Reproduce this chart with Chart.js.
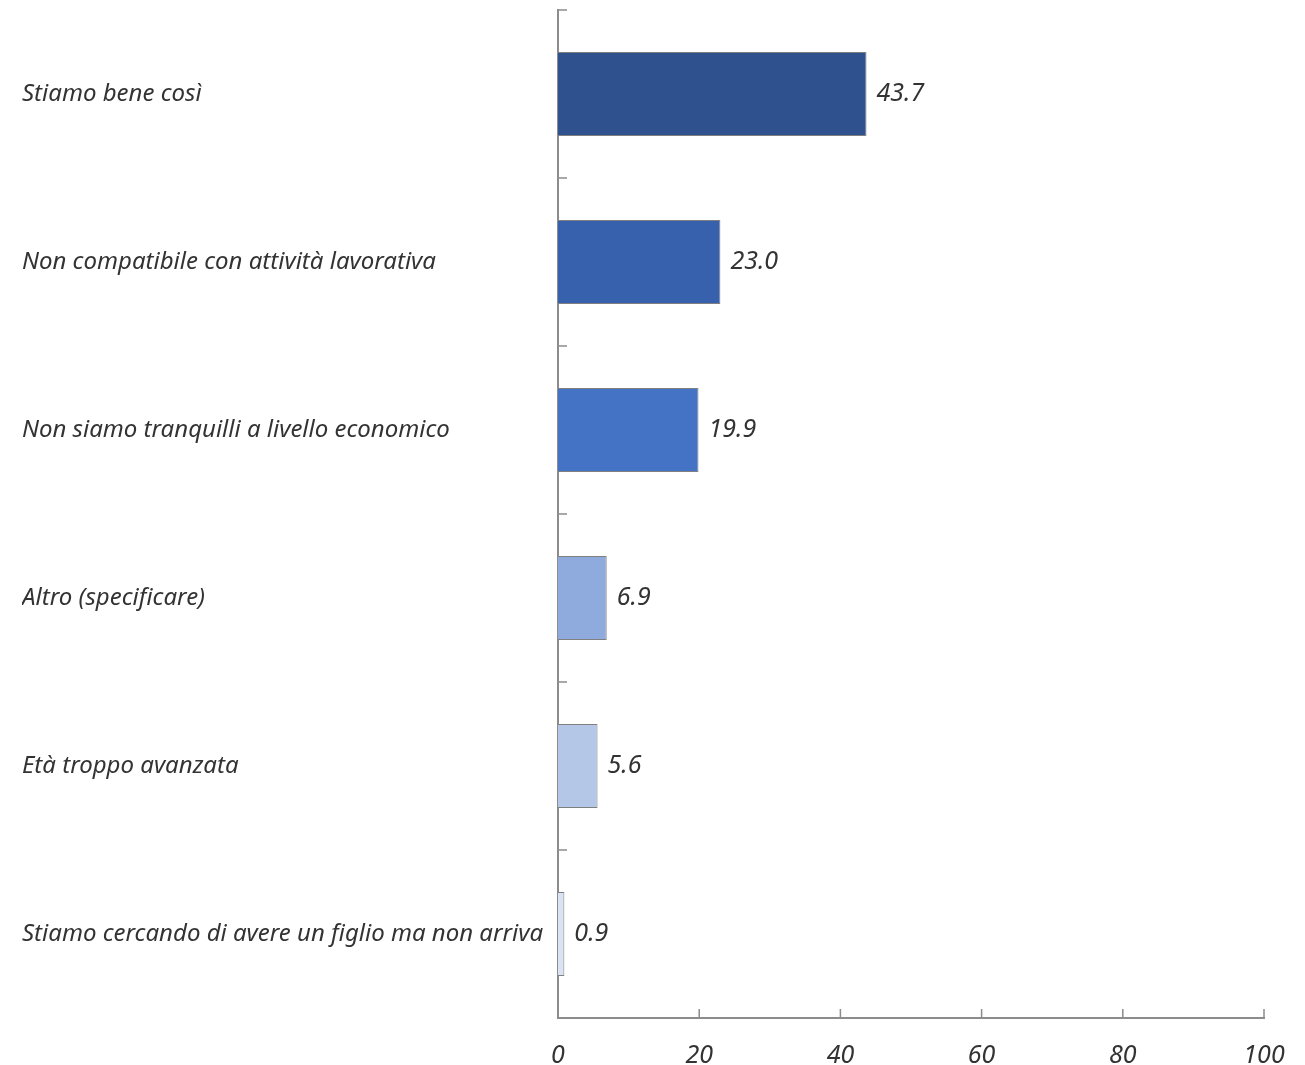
<!DOCTYPE html>
<html>
<head>
<meta charset="utf-8">
<script src="https://cdn.jsdelivr.net/npm/chart.js@4"></script>
<style>
  html, body { margin: 0; padding: 0; background: #fff; }
  #wrap { width: 1305px; height: 1065px; }
</style>
</head>
<body>
<div id="wrap"><canvas id="chart"></canvas></div>
<script>
const categories = [
    'Stiamo bene così',
    'Non compatibile con attività lavorativa',
    'Non siamo tranquilli a livello economico',
    'Altro (specificare)',
    'Età troppo avanzata',
    'Stiamo cercando di avere un figlio ma non arriva'
];
const values = [43.7, 23.0, 19.9, 6.9, 5.6, 0.9];
const barColors = ['#2f528f', '#3761ad', '#4472c4', '#8faadc', '#b4c7e7', '#dae3f3'];
const xTicks = [0, 20, 40, 60, 80, 100];

const FONT = '"Noto Sans", sans-serif';
const AXIS = '#8c8c8c';
const TEXT = '#333333';

// small tick marks pointing into the plot, like the original
const innerTicks = {
    id: 'innerTicks',
    afterDraw(chart) {
        const ctx = chart.ctx;
        const x = chart.scales.x, y = chart.scales.y;
        ctx.save();
        ctx.strokeStyle = AXIS;
        ctx.lineWidth = 1.5;
        ctx.beginPath();
        for (let i = 0; i <= categories.length; i++) {
            const py = y.getPixelForValue(i - 0.5);
            ctx.moveTo(x.left, py);
            ctx.lineTo(x.left + 9, py);
        }
        xTicks.forEach(v => {
            const px = x.getPixelForValue(v);
            ctx.moveTo(px, y.bottom);
            ctx.lineTo(px, y.bottom - 9);
        });
        ctx.stroke();
        ctx.restore();
    }
};

const valueLabels = {
    id: 'valueLabels',
    afterDatasetsDraw(chart) {
        const ctx = chart.ctx;
        ctx.save();
        ctx.font = 'italic 25px ' + FONT;
        ctx.fillStyle = TEXT;
        ctx.textAlign = 'left';
        ctx.textBaseline = 'middle';
        chart.getDatasetMeta(0).data.forEach((bar, i) => {
            ctx.fillText(values[i].toFixed(1), bar.x + 10, bar.y);
        });
        ctx.restore();
    }
};

new Chart(document.getElementById('chart'), {
    type: 'bar',
    data: {
        labels: categories,
        datasets: [{
            data: values,
            backgroundColor: barColors,
            borderColor: '#7f7f7f',
            borderWidth: 1,
            barPercentage: 0.5,
            categoryPercentage: 1
        }]
    },
    options: {
        indexAxis: 'y',
        responsive: true,
        maintainAspectRatio: false,
        animation: false,
        layout: { padding: { left: 22, right: 41, top: 10, bottom: 0 } },
        plugins: {
            legend: { display: false },
            tooltip: { enabled: false }
        },
        scales: {
            x: {
                min: 0,
                max: 100,
                afterBuildTicks: s => { s.ticks = xTicks.map(v => ({ value: v })); },
                afterFit: s => { s.height = 47; s.paddingLeft = 0; s.paddingRight = 0; },
                grid: { display: false, drawTicks: false },
                border: { display: true, color: AXIS, width: 2 },
                ticks: {
                    padding: 23,
                    color: TEXT,
                    font: { family: FONT, size: 25, style: 'italic' }
                }
            },
            y: {
                afterFit: s => { s.width = 536; s.paddingTop = 0; s.paddingBottom = 0; },
                grid: { display: false, drawTicks: false },
                border: { display: true, color: AXIS, width: 2 },
                ticks: {
                    crossAlign: 'far',
                    color: TEXT,
                    font: { family: FONT, size: 24, style: 'italic' }
                }
            }
        }
    },
    plugins: [innerTicks, valueLabels]
});
</script>
</body>
</html>
